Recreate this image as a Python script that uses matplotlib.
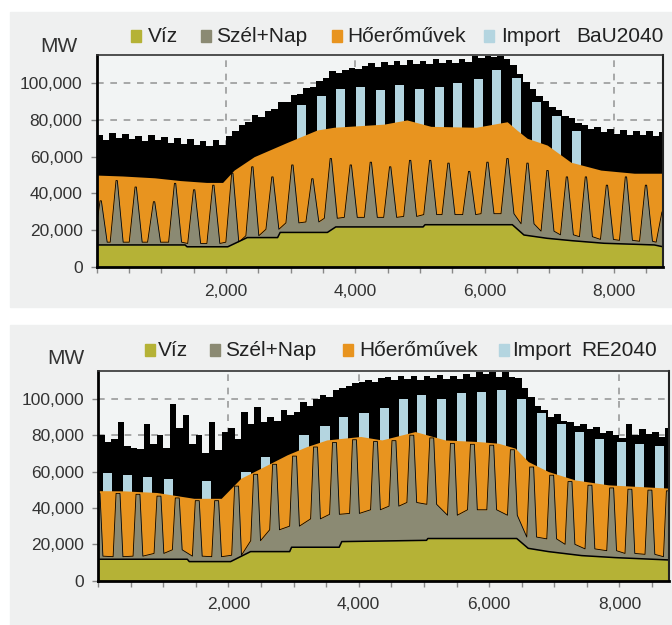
import numpy as np
import matplotlib
matplotlib.use("Agg")
import matplotlib.pyplot as plt
from matplotlib.patches import Rectangle
from matplotlib.ticker import MultipleLocator, FuncFormatter

plt.rcParams['font.family'] = ['Liberation Sans', 'DejaVu Sans']

# ---- data (MW) ----
labels = ['Víz', 'Szél+Nap', 'Hőerőművek', 'Import']
colors = ['#b5b236', '#8b8a73', '#e8941f', '#b4d5e0']

# 100-hour grid for the upper envelope (total load incl. daily peaks)
grid_hours = np.arange(0, 8800, 100)

# BaU2040
bau_viz_h = [0, 1370, 1400, 2030, 2330, 2800, 2840, 3570, 3700, 5050, 5080, 6430, 6610, 6970, 7355, 7850, 8625, 8760]
bau_viz = [12000, 12000, 11000, 11000, 16000, 16000, 18800, 18800, 21800, 21800, 23000, 23000, 17400, 15600, 14300, 12900, 12000, 11000]
bau_spike_h = [65, 312, 606, 890, 1215, 1510, 1807, 2100, 2410, 2720, 3029, 3338, 3623, 3932, 4242,
               4541, 4850, 5160, 5443, 5763, 6046, 6355, 6665, 6974, 7274, 7568, 7893, 8187, 8497, 8754]
bau_szel_peak = [36000, 47000, 43500, 35500, 45500, 42000, 44500, 51000, 54500, 49000, 55500, 48000, 59000, 55500, 57000,
                 54500, 58000, 58000, 56500, 52000, 57000, 59000, 56500, 52500, 49000, 49000, 44500, 49000, 44500, 30000]
bau_szel_base = [13500, 13500, 13500, 13500, 13500, 12800, 12800, 13500, 17000, 20500, 24000, 24500, 26500, 27000, 27000,
                 27000, 27500, 28500, 28500, 28500, 29000, 29000, 23500, 19500, 17500, 16500, 15000, 14500, 14000, 13500]
bau_hoero_h = [0, 400, 900, 1300, 1700, 1950, 2127, 2437, 2930, 3410, 3670, 4445, 4800, 5170, 5870, 6350, 6500, 6660, 6970, 7335, 7800, 8315, 8760]
bau_hoero = [50000, 49500, 48500, 47000, 46000, 46000, 52700, 60000, 67500, 74500, 76000, 77700, 80000, 76500, 76000, 79000, 74500, 70000, 66300, 57000, 52700, 51000, 51000]
bau_import = [0, 0, 0, 0, 0, 0, 0, 0, 0, 0, 88000, 93000, 97000, 98000, 96000,
              99000, 97000, 98000, 100000, 102000, 107000, 103000, 90000, 82000, 74000, 0, 0, 0, 0, 0]
bau_total = [72000, 69000, 73000, 70000, 72500, 69500, 71500, 68500, 72000, 69000,
             70500, 67500, 70000, 67000, 69500, 66500, 68500, 66000, 69000, 66500,
             71000, 74000, 77500, 79000, 82500, 81500, 85000, 86000, 89500, 90000,
             93500, 94000, 97500, 98000, 101000, 103000, 106500, 105500, 107000, 108500,
             107500, 109500, 111000, 109000, 111500, 110000, 112000, 110000, 112500, 110500,
             112000, 110500, 113000, 111000, 112500, 111000, 113000, 111500, 115000, 113500,
             115000, 114000, 115000, 113000, 110000, 105000, 100500, 97000, 93000, 90500,
             87000, 85500, 82000, 81000, 78500, 77500, 75000, 76000, 73500, 75000,
             72500, 74500, 72000, 74000, 72000, 74000, 71500, 73500]

# RE2040
re_viz_h = [0, 1370, 1400, 2034, 2340, 2940, 2970, 3700, 3740, 5040, 5060, 6424, 6600, 6910, 7420, 7930, 8760]
re_viz = [11800, 11800, 10500, 10500, 16000, 16000, 18400, 18400, 21500, 22200, 23200, 23200, 17800, 16000, 13800, 12700, 11400]
re_spike_h = [0, 307, 613, 935, 1216, 1523, 1820, 2126, 2418, 2709, 3015, 3337, 3628, 3935, 4257,
              4540, 4814, 5120, 5437, 5744, 6040, 6357, 6653, 6960, 7241, 7547, 7880, 8160, 8467, 8750]
re_szel_peak = [48000, 48000, 47500, 46500, 45500, 44000, 44000, 52000, 58500, 64000, 68500, 73500, 76000, 77500, 76500,
                77000, 80000, 78500, 75500, 75000, 74500, 72000, 62500, 58000, 54500, 52500, 51000, 50300, 49800, 49400]
re_szel_base = [13500, 13200, 13500, 15000, 17000, 13500, 13200, 14000, 22000, 28000, 30000, 34000, 36500, 37000, 39000,
                41000, 43000, 42000, 36000, 39000, 39000, 36000, 24000, 23000, 20000, 17500, 16500, 15000, 14500, 13200]
re_hoero_h = [0, 400, 900, 1470, 1890, 2190, 2545, 2900, 3200, 3510, 4030, 4355, 4865, 5325, 5835, 6140, 6400, 6600, 6910, 7320, 7830, 8760]
re_hoero = [49500, 49400, 48500, 45300, 45300, 56300, 62700, 69200, 73700, 77400, 79300, 77400, 82000, 77400, 76500, 75600, 72900, 65500, 60000, 55400, 52700, 50900]
re_import = [59000, 58000, 57000, 56000, 0, 55000, 0, 60000, 68000, 0, 80000, 85000, 90000, 92000, 95000,
             100000, 102000, 100000, 103000, 104000, 105000, 100000, 92000, 86000, 82000, 78000, 76000, 75000, 74000, 0]
re_total = [80000, 76000, 78000, 87000, 74000, 73000, 72500, 86000, 75000, 80000,
            73000, 97000, 84000, 91000, 75000, 80000, 70000, 87000, 72000, 82000,
            84000, 78000, 93000, 86000, 95500, 87000, 90000, 88000, 94000, 91000,
            93000, 98000, 96000, 100000, 102000, 101000, 105000, 106000, 107000, 108500,
            109500, 110500, 109500, 111500, 112000, 110500, 112500, 111000, 112500, 110500,
            112500, 111500, 113000, 111000, 112500, 111000, 113500, 112000, 115000, 113500,
            115000, 112000, 115000, 112000, 111500, 106000, 101000, 96000, 94000, 90000,
            91500, 88000, 87500, 85000, 86000, 83500, 84500, 81000, 82500, 80000,
            78500, 86000, 80000, 83500, 80500, 82000, 79000, 84000]

# ---- figure ----
W, H = 672, 625
fig = plt.figure(figsize=(W / 100, H / 100), dpi=100, facecolor='white')
PANEL_BG = '#eff0f0'


def fx(px):
    return px / W


def fy(py):
    return 1 - py / H


def draw_panel(ax, viz_h, viz, spike_h, szel_peak, szel_base, hoero_h, hoero, imp, total, plat, foot):
    ax.set_facecolor('#f2f4f4')
    # total load envelope (dense daily lines -> black band)
    gx = np.append(grid_hours, 8760)
    gy = np.append(total, total[-1])
    ax.fill_between(gx, 0, gy, step='post', color='black', lw=0, zorder=2)
    # import columns
    for s, v in zip(spike_h, imp):
        if v:
            ax.fill_between([s + 75, s + 215], 0, v, color=colors[3], lw=0, zorder=3)
    # thermal plants
    ax.fill_between(hoero_h, 0, hoero, color=colors[2], lw=0, zorder=4)
    # wind + solar spikes
    sx, sy = [], []
    for s, p, b in zip(spike_h, szel_peak, szel_base):
        sx += [s - foot, s - plat, s + plat, s + foot]
        sy += [b, p, p, b]
    ax.fill_between(sx, 0, sy, color=colors[1], lw=0, zorder=5)
    ax.plot(sx, sy, color='black', lw=0.6, zorder=6)
    # hydro
    ax.fill_between(viz_h, 0, viz, color=colors[0], lw=0, zorder=7)
    ax.plot(viz_h, viz, color='black', lw=1.1, zorder=8)

    ax.set_xlim(0, 8760)
    ax.set_ylim(0, 115300)
    ax.set_yticks(range(0, 100001, 20000))
    ax.yaxis.set_major_formatter(FuncFormatter(lambda v, p: f'{v:,.0f}'))
    ax.set_xticks([2000, 4000, 6000, 8000])
    ax.xaxis.set_minor_locator(MultipleLocator(500))
    ax.xaxis.set_major_formatter(FuncFormatter(lambda v, p: f'{v:,.0f}'))
    ax.tick_params(axis='both', which='both', direction='out', length=4, width=1,
                   color='#888888', labelsize=12.5, labelcolor='#333333')
    ax.tick_params(axis='y', pad=6)
    ax.tick_params(axis='x', pad=8)
    ax.grid(True, which='major', color='#9a9a9a', lw=1.2, ls=(0, (4, 4)), zorder=1)
    ax.set_axisbelow(True)
    for side, lw, c in [('left', 2.0, 'black'), ('bottom', 2.0, 'black'),
                        ('top', 1.2, '#333333'), ('right', 1.5, '#222222')]:
        ax.spines[side].set_linewidth(lw)
        ax.spines[side].set_color(c)
        ax.spines[side].set_zorder(10)


def legend_row(yc, sq_x, tx_x, title, title_x, mw_x, mw_y):
    for c, lab, sx, tx in zip(colors, labels, sq_x, tx_x):
        fig.patches.append(Rectangle((fx(sx), fy(yc + 6)), 10 / W, 12 / H,
                                     transform=fig.transFigure, color=c, zorder=3))
        fig.text(fx(tx), fy(yc), lab, ha='left', va='center', fontsize=15, color='#222222')
    fig.text(fx(title_x), fy(yc), title, ha='left', va='center', fontsize=15, color='#222222')
    fig.text(fx(mw_x), fy(mw_y), 'MW', ha='left', va='center', fontsize=15, color='#333333')


# panel backgrounds
fig.patches.append(Rectangle((fx(10), fy(307)), 662 / W, 295 / H, transform=fig.transFigure,
                             color=PANEL_BG, zorder=-1))
fig.patches.append(Rectangle((fx(10), fy(625)), 662 / W, 300 / H, transform=fig.transFigure,
                             color=PANEL_BG, zorder=-1))

ax_top = fig.add_axes([fx(96.5), fy(267), (663 - 96.5) / W, (267 - 55) / H])
draw_panel(ax_top, bau_viz_h, bau_viz, bau_spike_h, bau_szel_peak, bau_szel_base,
           bau_hoero_h, bau_hoero, bau_import, bau_total, plat=10, foot=100)
legend_row(36, [131, 201, 332, 484], [148, 216, 347, 501], 'BaU2040', 576, 40, 46)

ax_bot = fig.add_axes([fx(98), fy(580.7), (669 - 98) / W, (580.7 - 371) / H])
draw_panel(ax_bot, re_viz_h, re_viz, re_spike_h, re_szel_peak, re_szel_base,
           re_hoero_h, re_hoero, re_import, re_total, plat=30, foot=75)
legend_row(350, [145, 210, 343, 499], [158, 225, 359, 512], 'RE2040', 581, 47, 358)

fig.savefig('out.png', dpi=100, facecolor='white')
